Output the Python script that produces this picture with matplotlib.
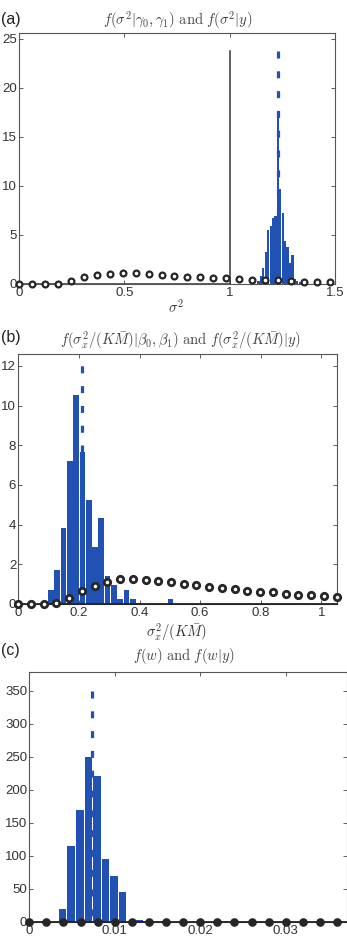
import matplotlib
matplotlib.use('Agg')
import matplotlib.pyplot as plt
import numpy as np

plt.rcParams['mathtext.fontset'] = 'cm'
plt.rcParams['font.family'] = ['Liberation Sans', 'DejaVu Sans']

# ---------------- data ----------------
# (a) sigma^2
a_prior_x = [0.0, 0.0615, 0.123, 0.1845, 0.246, 0.3075, 0.369, 0.4305, 0.492, 0.5535,
             0.615, 0.6765, 0.738, 0.7995, 0.861, 0.9225, 0.984, 1.0455, 1.107, 1.1685,
             1.23, 1.2915, 1.353, 1.4145, 1.476]
a_prior_y = [0.0, 0.0, 0.0, 0.05, 0.3, 0.68, 0.88, 1.05, 1.12, 1.09,
             1.02, 0.92, 0.85, 0.75, 0.68, 0.61, 0.58, 0.46, 0.44, 0.38,
             0.37, 0.31, 0.24, 0.20, 0.17]
a_hist_x = [1.137, 1.1485, 1.16, 1.1715, 1.183, 1.1945, 1.206, 1.2175, 1.229, 1.2405,
            1.252, 1.2635, 1.275, 1.2865, 1.298, 1.3095, 1.321, 1.3325, 1.344]
a_hist_y = [0.3, 0.8, 1.6, 3.3, 5.5, 5.9, 6.7, 6.9, 17.0, 9.7,
            7.2, 4.4, 3.8, 2.1, 3.0, 0.5, 0.3, 0.2, 0.15]
a_hist_w = 0.0115
a_true = 1.0
a_true_h = 23.8
a_est = 1.231
a_est_h = 23.8

# (b) sigma_x^2/(K Mbar)
b_prior_x = [0.0, 0.042, 0.084, 0.126, 0.168, 0.21, 0.252, 0.294, 0.336, 0.378,
             0.42, 0.462, 0.504, 0.546, 0.588, 0.63, 0.672, 0.714, 0.756, 0.798,
             0.84, 0.882, 0.924, 0.966, 1.008, 1.05]
b_prior_y = [0.0, 0.0, 0.0, 0.03, 0.32, 0.64, 0.91, 1.11, 1.25, 1.26,
             1.23, 1.18, 1.11, 1.03, 0.94, 0.88, 0.81, 0.74, 0.67, 0.62,
             0.59, 0.52, 0.47, 0.44, 0.40, 0.37]
b_hist_x = [0.1074, 0.1282, 0.149, 0.1698, 0.1906, 0.2114, 0.2322, 0.253, 0.2738, 0.2946,
            0.3154, 0.3362, 0.357, 0.3778, 0.3986, 0.4194, 0.4402, 0.461, 0.4818, 0.5026]
b_hist_y = [0.71, 1.69, 3.83, 7.2, 10.54, 7.66, 5.26, 2.87, 4.33, 1.43,
            0.94, 0.24, 0.71, 0.24, 0.06, 0.0, 0.0, 0.0, 0.0, 0.24]
b_hist_w = 0.0208
b_est = 0.21
b_est_h = 13.0

# (c) w
c_prior_x = [0.0, 0.002, 0.004, 0.006, 0.008, 0.010, 0.012, 0.014, 0.016, 0.018,
             0.020, 0.022, 0.024, 0.026, 0.028, 0.030, 0.032, 0.034, 0.036]
c_prior_y = [0.0] * 19
c_hist_x = [0.0039, 0.0049, 0.0059, 0.0069, 0.0079, 0.0089, 0.0099, 0.0109, 0.0119, 0.0129]
c_hist_y = [20, 115, 170, 250, 220, 95, 70, 45, 0, 3]
c_hist_w = 0.001
c_est = 0.00735
c_est_h = 350

BLUE = '#2151b3'
DOT = '#262626'
TXT = '#333333'

fig = plt.figure(figsize=(3.47, 9.39), dpi=100)
W, H = 347.0, 939.0


def make_ax(l, r, t, b):
    return fig.add_axes([l / W, 1 - b / H, (r - l) / W, (b - t) / H])


def style(ax):
    ax.tick_params(direction='in', top=True, right=True, length=3, width=0.6,
                   labelsize=9.5, colors='#444444', labelcolor=TXT, pad=2.5)
    ax.tick_params(axis='y', pad=1.5)
    for s in ax.spines.values():
        s.set_linewidth(0.8)
        s.set_color('#555555')


dash = (2.2, 4.0)
TITLE_FS = 10.5

# ---------- (a) ----------
ax = make_ax(19, 335, 33, 284)
ax.bar(a_hist_x, a_hist_y, width=a_hist_w * 0.93, color=BLUE, zorder=2)
ax.plot([0, a_true, a_true], [0, 0, a_true_h], color='#333333', lw=1.1, zorder=3)
ax.plot([a_est, a_est], [a_est_h, 0], color=BLUE, lw=2.3, dashes=dash, zorder=4)
ax.plot(a_prior_x, a_prior_y, 'o', ms=4.2, mfc='white', mec=DOT, mew=1.6, zorder=5,
        clip_on=False)
ax.set_xlim(0, 1.5)
ax.set_ylim(0, 25.6)
ax.set_xticks([0, 0.5, 1, 1.5])
ax.set_xticklabels(['0', '0.5', '1', '1.5'])
ax.set_yticks([0, 5, 10, 15, 20, 25])
style(ax)
fig.text(176 / W, 1 - 307 / H, r'$\sigma^2$', ha='center', va='center', fontsize=10.5, color=TXT)
fig.text(0.5 / W, 1 - 19.5 / H, '(a)', ha='left', va='center', fontsize=11.5, color='#222222')
fig.text(178 / W, 1 - 20 / H, r'$f(\sigma^2|\gamma_0,\gamma_1)\ \mathrm{and}\ f(\sigma^2|y)$',
         ha='center', va='center', fontsize=TITLE_FS, color='#444444')

# ---------- (b) ----------
ax = make_ax(18.3, 336.5, 354, 604)
ax.bar(b_hist_x, b_hist_y, width=b_hist_w * 0.9, color=BLUE, zorder=2)
ax.plot([0, 1.05], [0, 0], color='#222222', lw=1.3, zorder=3, clip_on=False)
ax.plot([b_est, b_est], [b_est_h, 0], color=BLUE, lw=2.3, dashes=dash, zorder=4)
ax.plot(b_prior_x, b_prior_y, 'o', ms=4.6, mfc='white', mec=DOT, mew=2.0, zorder=5,
        clip_on=False)
ax.set_xlim(0, 1.05)
ax.set_ylim(0, 12.6)
ax.set_xticks([0, 0.2, 0.4, 0.6, 0.8, 1])
ax.set_xticklabels(['0', '0.2', '0.4', '0.6', '0.8', '1'])
ax.set_yticks([0, 2, 4, 6, 8, 10, 12])
style(ax)
fig.text(177 / W, 1 - 632 / H, r'$\sigma_x^2/(K\bar{M})$', ha='center', va='center',
         fontsize=10.5, color=TXT)
fig.text(0.5 / W, 1 - 337.5 / H, '(b)', ha='left', va='center', fontsize=11.5, color='#222222')
fig.text(180 / W, 1 - 340 / H,
         r'$f(\sigma_x^2/(K\bar{M})|\beta_0,\beta_1)\ \mathrm{and}\ f(\sigma_x^2/(K\bar{M})|y)$',
         ha='center', va='center', fontsize=TITLE_FS, color='#444444')

# ---------- (c) ----------
ax = make_ax(29.3, 346.5, 672, 922)
ax.bar(c_hist_x, c_hist_y, width=c_hist_w * 0.88, color=BLUE, zorder=2)
ax.plot([0, 0.0371], [0, 0], color='#222222', lw=1.3, zorder=3, clip_on=False)
ax.plot([c_est, c_est], [c_est_h, 0], color=BLUE, lw=2.3, dashes=dash, zorder=4)
ax.plot(c_prior_x, c_prior_y, 'o', ms=5.2, mfc=DOT, mec=DOT, mew=1.0, zorder=5,
        clip_on=False)
ax.set_xlim(0, 0.0371)
ax.set_ylim(0, 378)
ax.set_xticks([0, 0.01, 0.02, 0.03])
ax.set_xticklabels(['0', '0.01', '0.02', '0.03'])
ax.set_yticks([0, 50, 100, 150, 200, 250, 300, 350])
style(ax)
fig.text(0.5 / W, 1 - 651 / H, '(c)', ha='left', va='center', fontsize=11.5, color='#222222')
fig.text(184 / W, 1 - 656 / H, r'$f(w)\ \mathrm{and}\ f(w|y)$',
         ha='center', va='center', fontsize=TITLE_FS, color='#444444')

fig.savefig('out.png', dpi=100)
